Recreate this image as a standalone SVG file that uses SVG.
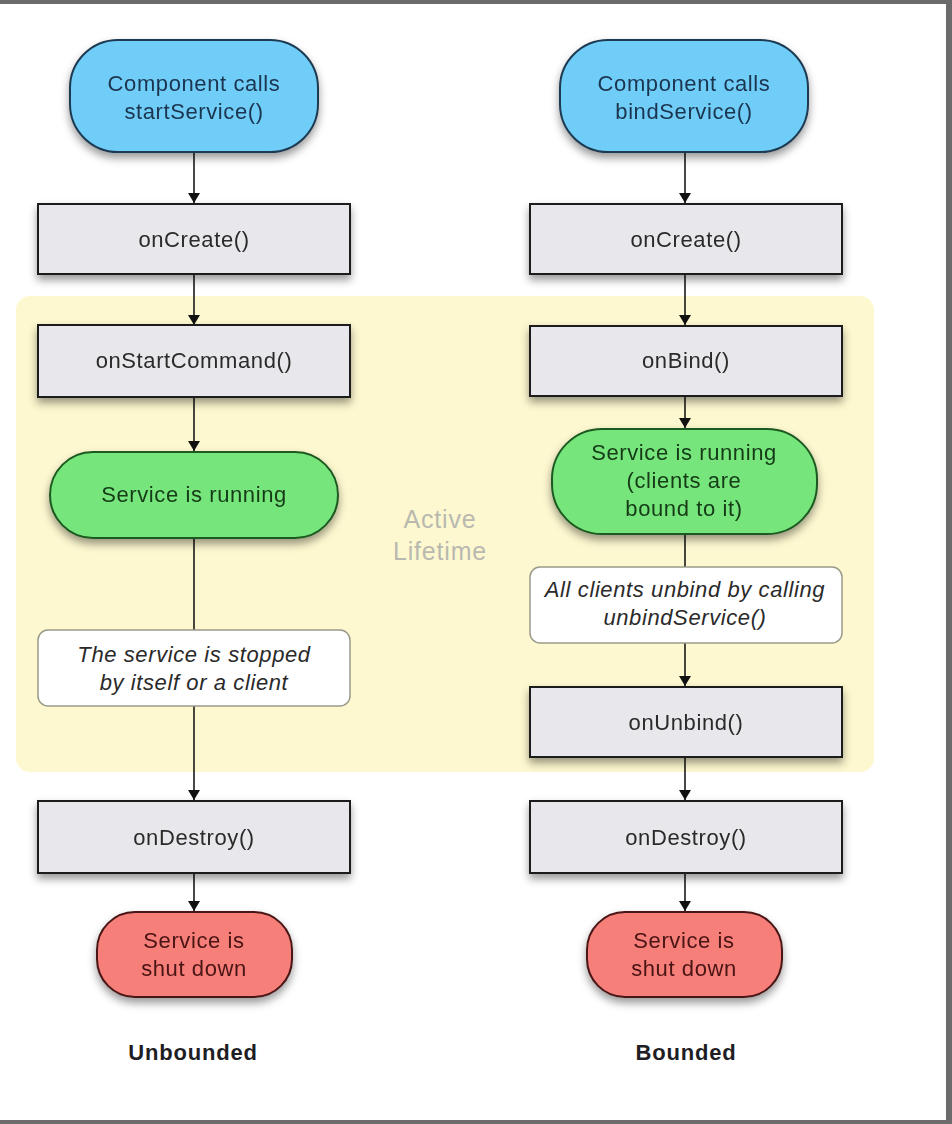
<svg xmlns="http://www.w3.org/2000/svg" width="952" height="1124" viewBox="0 0 952 1124">
<style>
text{font-family:"Liberation Sans",Arial,sans-serif;text-anchor:middle}
.lbl{font-size:22px;letter-spacing:0.6px;fill:#2a2a2a}
.box{fill:#e8e8ec;stroke:#1e1e1e;stroke-width:2}
.start{fill:#6fcdf7;stroke:#1e3a52;stroke-width:2}
.run{fill:#76e57c;stroke:#1d5a20;stroke-width:2}
.stop{fill:#f67f7a;stroke:#4a1515;stroke-width:2}
.note{fill:#ffffff;stroke:#9a9a8a;stroke-width:1.5}
.edge{stroke:#1a1a1a;stroke-width:1.6;fill:none}
.it{font-style:italic;font-size:22px;letter-spacing:0.6px;fill:#2a2a2a}
.bt{fill:#1c3450}
.gt{fill:#143a16}
.rt{fill:#4a1212}
.hd{font-size:22px;letter-spacing:0.8px;font-weight:bold;fill:#1e1e24}
.al{font-size:25px;letter-spacing:0.8px;fill:#b9b9b0}
</style>
<defs>
<filter id="sh" x="-20%" y="-20%" width="140%" height="160%">
<feDropShadow dx="0" dy="5" stdDeviation="4.5" flood-color="#000" flood-opacity="0.4"/>
</filter>
<marker id="ar" viewBox="0 0 10 12" refX="10" refY="6" markerWidth="13" markerHeight="12" markerUnits="userSpaceOnUse" orient="auto">
<path d="M0,0 L10,6 L0,12 z" fill="#111"/>
</marker>
</defs>
<rect x="0" y="0" width="952" height="1124" fill="#ffffff"/>
<g id="frame" fill="#6b6b6b">
<rect x="0" y="0" width="952" height="4"/>
<rect x="946" y="0" width="6" height="1124"/>
<rect x="0" y="1120" width="952" height="4"/>
</g>
<g id="active-lifetime">
<rect x="16" y="296" width="858" height="476" rx="14" fill="#fdf8cf"/>
<text class="al" x="440" y="528">Active</text>
<text class="al" x="440" y="560">Lifetime</text>
</g>
<g id="connectors">
<line class="edge" x1="194" y1="152" x2="194" y2="203" marker-end="url(#ar)"/>
<line class="edge" x1="194" y1="274" x2="194" y2="325" marker-end="url(#ar)"/>
<line class="edge" x1="194" y1="397" x2="194" y2="451" marker-end="url(#ar)"/>
<line class="edge" x1="194" y1="538" x2="194" y2="630"/>
<line class="edge" x1="194" y1="706" x2="194" y2="800" marker-end="url(#ar)"/>
<line class="edge" x1="194" y1="873" x2="194" y2="911" marker-end="url(#ar)"/>
<line class="edge" x1="685" y1="152" x2="685" y2="203" marker-end="url(#ar)"/>
<line class="edge" x1="685" y1="274" x2="685" y2="325" marker-end="url(#ar)"/>
<line class="edge" x1="685" y1="396" x2="685" y2="428" marker-end="url(#ar)"/>
<line class="edge" x1="685" y1="534" x2="685" y2="567"/>
<line class="edge" x1="685" y1="643" x2="685" y2="686" marker-end="url(#ar)"/>
<line class="edge" x1="685" y1="757" x2="685" y2="800" marker-end="url(#ar)"/>
<line class="edge" x1="685" y1="873" x2="685" y2="911" marker-end="url(#ar)"/>
</g>
<g id="start-left" filter="url(#sh)">
<rect class="start" x="70" y="40" width="248" height="112" rx="48"/>
<text class="lbl bt" x="194" y="91">Component calls</text>
<text class="lbl bt" x="194" y="119">startService()</text>
</g>
<g id="oncreate-left" filter="url(#sh)">
<rect class="box" x="38" y="204" width="312" height="70"/>
<text class="lbl" x="194" y="247">onCreate()</text>
</g>
<g id="onstartcommand" filter="url(#sh)">
<rect class="box" x="38" y="325" width="312" height="72"/>
<text class="lbl" x="194" y="368">onStartCommand()</text>
</g>
<g id="running-left" filter="url(#sh)">
<rect class="run" x="50" y="452" width="288" height="86" rx="43"/>
<text class="lbl gt" x="194" y="502">Service is running</text>
</g>
<g id="note-left">
<rect class="note" x="38" y="630" width="312" height="76" rx="10"/>
<text class="it" x="194" y="662">The service is stopped</text>
<text class="it" x="194" y="690">by itself or a client</text>
</g>
<g id="ondestroy-left" filter="url(#sh)">
<rect class="box" x="38" y="801" width="312" height="72"/>
<text class="lbl" x="194" y="845">onDestroy()</text>
</g>
<g id="shutdown-left" filter="url(#sh)">
<rect class="stop" x="97" y="912" width="195" height="85" rx="38"/>
<text class="lbl rt" x="194" y="948">Service is</text>
<text class="lbl rt" x="194" y="976">shut down</text>
</g>
<g id="label-unbounded">
<text class="hd" x="193" y="1060">Unbounded</text>
</g>
<g id="start-right" filter="url(#sh)">
<rect class="start" x="560" y="40" width="248" height="112" rx="48"/>
<text class="lbl bt" x="684" y="91">Component calls</text>
<text class="lbl bt" x="684" y="119">bindService()</text>
</g>
<g id="oncreate-right" filter="url(#sh)">
<rect class="box" x="530" y="204" width="312" height="70"/>
<text class="lbl" x="686" y="247">onCreate()</text>
</g>
<g id="onbind" filter="url(#sh)">
<rect class="box" x="530" y="326" width="312" height="70"/>
<text class="lbl" x="686" y="368">onBind()</text>
</g>
<g id="running-right" filter="url(#sh)">
<rect class="run" x="552" y="429" width="265" height="105" rx="50"/>
<text class="lbl gt" x="684" y="460">Service is running</text>
<text class="lbl gt" x="684" y="488">(clients are</text>
<text class="lbl gt" x="684" y="516">bound to it)</text>
</g>
<g id="note-right">
<rect class="note" x="530" y="567" width="312" height="76" rx="10"/>
<text class="it" x="685" y="597">All clients unbind by calling</text>
<text class="it" x="685" y="625">unbindService()</text>
</g>
<g id="onunbind" filter="url(#sh)">
<rect class="box" x="530" y="687" width="312" height="70"/>
<text class="lbl" x="686" y="730">onUnbind()</text>
</g>
<g id="ondestroy-right" filter="url(#sh)">
<rect class="box" x="530" y="801" width="312" height="72"/>
<text class="lbl" x="686" y="845">onDestroy()</text>
</g>
<g id="shutdown-right" filter="url(#sh)">
<rect class="stop" x="587" y="912" width="195" height="85" rx="38"/>
<text class="lbl rt" x="684" y="948">Service is</text>
<text class="lbl rt" x="684" y="976">shut down</text>
</g>
<g id="label-bounded">
<text class="hd" x="686" y="1060">Bounded</text>
</g>
</svg>
